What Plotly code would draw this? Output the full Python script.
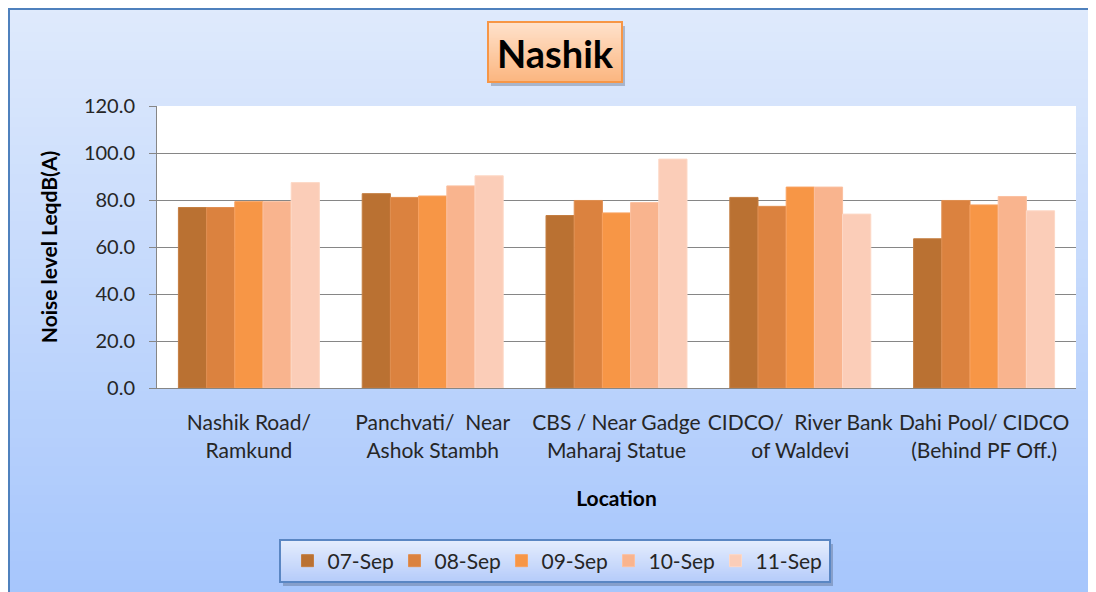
import base64
import struct
import zlib

import plotly.graph_objects as go

locations = ['Nashik Road/<br>Ramkund',
             'Panchvati/  Near<br>Ashok Stambh',
             'CBS / Near Gadge<br>Maharaj Statue',
             'CIDCO/  River Bank<br>of Waldevi',
             'Dahi Pool/ CIDCO<br>(Behind PF Off.)']
dates = ['07-Sep', '08-Sep', '09-Sep', '10-Sep', '11-Sep']
sep07 = [76.8, 82.7, 73.4, 81.1, 63.5]
sep08 = [76.8, 81.1, 79.8, 77.3, 79.8]
sep09 = [79.3, 81.7, 74.5, 85.5, 77.9]
sep10 = [79.3, 86.0, 78.9, 85.5, 81.5]
sep11 = [87.4, 90.3, 97.4, 74.0, 75.4]
y_ticks = [0, 20, 40, 60, 80, 100, 120]

bar_colors = ['#BA7132', '#DB823F', '#F79646', '#F9B48E', '#FBCDB8']
edge_colors = ['#C47E42', '#E08F52', '#F9A260', '#FBC0A0', '#FDD8C6']

# the page body adds 8px on the left and top, so work in screen pixels minus OFF
OFF = 8
W, H = 1096, 592
L, T = 157 - OFF, 106 - OFF
PW, PH = 1076 - 157, 388 - 106
R, B = W - L - PW, H - T - PH
FONT = 'Lato'


def px_x(px):
    return (px - OFF - L) / PW


def px_y(py):
    return (T + PH - (py - OFF)) / PH


def gradient_png(top, bottom, n=64):
    raw = b''
    for i in range(n):
        t = i / (n - 1)
        raw += b'\x00' + bytes(round(a + (b - a) * t) for a, b in zip(top, bottom))

    def chunk(tag, data):
        return (struct.pack('>I', len(data)) + tag + data +
                struct.pack('>I', zlib.crc32(tag + data) & 0xffffffff))

    png = (b'\x89PNG\r\n\x1a\n' +
           chunk(b'IHDR', struct.pack('>IIBBBBB', 1, n, 8, 2, 0, 0, 0)) +
           chunk(b'IDAT', zlib.compress(raw)) +
           chunk(b'IEND', b''))
    return 'data:image/png;base64,' + base64.b64encode(png).decode()


def box_image(src, x0, y0, x1, y1, layer):
    return dict(source=src, xref='paper', yref='paper',
                x=px_x(x0), y=px_y(y0), sizex=(x1 - x0) / PW, sizey=(y1 - y0) / PH,
                xanchor='left', yanchor='top', sizing='stretch', layer=layer)


def box_rect(x0, y0, x1, y1, **kw):
    return dict(type='rect', xref='paper', yref='paper',
                x0=px_x(x0), x1=px_x(x1), y0=px_y(y1), y1=px_y(y0), **kw)


fig = go.Figure()
for name, vals, col, edge in zip(dates, [sep07, sep08, sep09, sep10, sep11], bar_colors, edge_colors):
    fig.add_trace(go.Bar(x=locations, y=vals, name=name,
                         marker=dict(color=col, line=dict(color=edge, width=1))))

bg_src = gradient_png((223, 234, 252), (165, 197, 252))
title_src = gradient_png((255, 226, 204), (251, 182, 128))
legend_src = gradient_png((229, 237, 253), (182, 204, 250))

images = [
    box_image(bg_src, 8, 8, W + 20, H + 20, 'below'),
    box_image(title_src, 488, 22, 622, 82, 'above'),
    box_image(legend_src, 280, 540, 830, 582, 'above'),
]
shapes = [
    # white plot area
    box_rect(157, 106, 1076, 388, fillcolor='white', line=dict(width=0), layer='below'),
    # outer frame
    box_rect(9, 9, W + 20, H + 20, line=dict(color='#4F81BD', width=2), layer='below'),
    # shadows
    box_rect(491, 26, 625, 86, fillcolor='rgba(60,70,90,0.3)', line=dict(width=0), layer='below'),
    box_rect(283, 544, 833, 586, fillcolor='rgba(60,70,90,0.3)', line=dict(width=0), layer='below'),
    # borders
    box_rect(488, 22, 622, 82, line=dict(color='#F79646', width=2), layer='above'),
    box_rect(280, 540, 830, 582, line=dict(color='#5A86C3', width=2), layer='above'),
]

fig.add_annotation(text='<b>Nashik</b>', xref='paper', yref='paper',
                   x=px_x(555), y=px_y(53), xanchor='center', yanchor='middle',
                   showarrow=False, font=dict(family=FONT, size=38, color='black'))

fig.update_layout(
    width=W, height=H,
    margin=dict(l=L, r=R, t=T, b=B),
    paper_bgcolor='white',
    plot_bgcolor='white',
    barmode='group', bargap=0.233, bargroupgap=0,
    images=images, shapes=shapes,
    font=dict(family=FONT, size=21, color='#262626'),
    legend=dict(orientation='h', x=px_x(555), xanchor='center', y=px_y(561), yanchor='middle',
                bgcolor='rgba(0,0,0,0)', borderwidth=0, entrywidth=62,
                font=dict(family=FONT, size=21, color='#262626')),
    xaxis=dict(showgrid=False, showline=True, linecolor='#868686', linewidth=1,
               ticks='', ticklabelstandoff=16,
               tickfont=dict(family=FONT, size=21, color='#262626'),
               title=dict(text='<b>Location</b>', standoff=30,
                          font=dict(family=FONT, size=21, color='black'))),
    yaxis=dict(range=[0, 120], tickvals=y_ticks, tickformat='.1f',
               showgrid=True, gridcolor='#868686', gridwidth=1,
               showline=True, linecolor='#868686', linewidth=1,
               ticks='outside', ticklen=7, tickcolor='#868686',
               ticklabelstandoff=10,
               tickfont=dict(family=FONT, size=20, color='#262626'),
               title=dict(text='<b>Noise level LeqdB(A)</b>', standoff=20,
                          font=dict(family=FONT, size=21, color='black'))),
)

fig.write_html('out.html')
